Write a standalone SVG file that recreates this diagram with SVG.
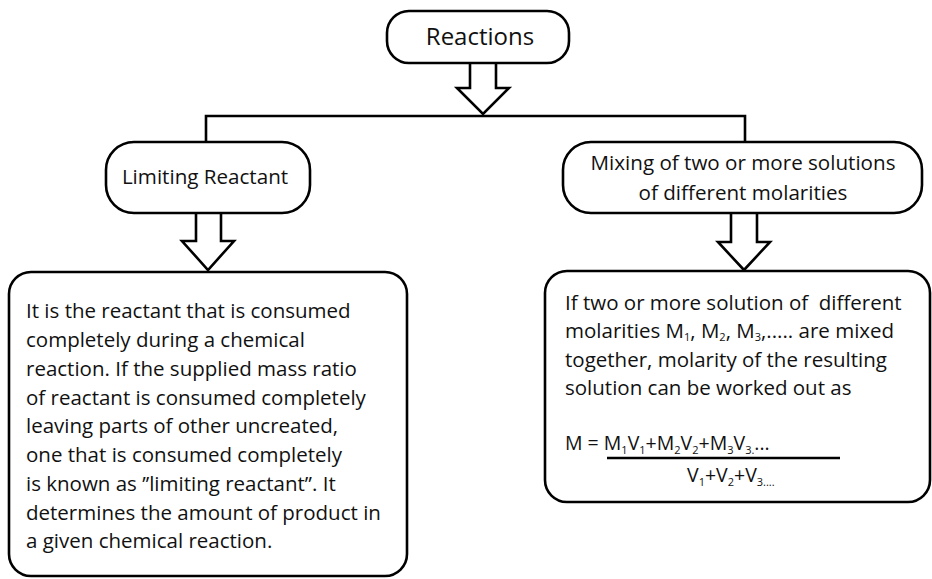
<svg xmlns="http://www.w3.org/2000/svg" width="932" height="579" viewBox="0 0 932 579">
<style>
.box{fill:#fff;stroke:#000;stroke-width:2.6}
.arr{fill:#fff;stroke:#000;stroke-width:2.6;stroke-linejoin:miter}
.con{fill:none;stroke:#000;stroke-width:2.6}
text{font-family:"Open Sans","Noto Sans","DejaVu Sans",sans-serif;fill:#111}
.h{font-size:20.6px;text-anchor:middle}
.t{font-size:20.5px}
.f{font-size:19.5px}
.s{font-size:11px}
</style>
<rect width="932" height="579" fill="#fff"/>
<g id="connectors">
<path class="con" d="M206,142 V116 H745 V142"/>
<path class="arr" d="M470,63 V88 H457 L483,114 L509,88 H496 V63"/>
<path class="arr" d="M196,213 V241 H182 L208,270 L234,241 H221 V213"/>
<path class="arr" d="M731,213 V242 H718 L744,270 L770,242 H757 V213"/>
</g>
<g id="reactions">
<rect class="box" x="387" y="11" width="182" height="52" rx="22"/>
<text class="h" x="480" y="45" style="font-size:24px">Reactions</text>
</g>
<g id="limiting">
<rect class="box" x="106" y="142" width="204" height="71" rx="28"/>
<text class="h" x="205" y="184">Limiting Reactant</text>
</g>
<g id="mixing">
<rect class="box" x="563" y="142" width="359" height="71" rx="28"/>
<text class="h" x="743" y="170">Mixing of two or more solutions</text>
<text class="h" x="743" y="200">of different molarities</text>
</g>
<g id="limiting-text">
<rect class="box" x="9" y="272" width="398" height="304" rx="22"/>
<text class="t" x="26" y="318">It is the reactant that is consumed</text>
<text class="t" x="26" y="347">completely during a chemical</text>
<text class="t" x="26" y="376">reaction. If the supplied mass ratio</text>
<text class="t" x="26" y="405">of reactant is consumed completely</text>
<text class="t" x="26" y="433">leaving parts of other uncreated,</text>
<text class="t" x="26" y="462">one that is consumed completely</text>
<text class="t" x="26" y="491">is known as ’’limiting reactant”. It</text>
<text class="t" x="26" y="520">determines the amount of product in</text>
<text class="t" x="26" y="548">a given chemical reaction.</text>
</g>
<g id="mixing-text">
<rect class="box" x="545" y="271" width="385" height="231" rx="22"/>
<text class="t" x="565" y="310" xml:space="preserve">If two or more solution of  different</text>
<text class="t" x="565" y="338">molarities M<tspan class="s" dy="3">1</tspan><tspan dy="-3">, M</tspan><tspan class="s" dy="3">2</tspan><tspan dy="-3">, M</tspan><tspan class="s" dy="3">3</tspan><tspan dy="-3">,..... are mixed</tspan></text>
<text class="t" x="565" y="367">together, molarity of the resulting</text>
<text class="t" x="565" y="395">solution can be worked out as</text>
<text class="f" x="565" y="450">M = M<tspan class="s" dy="4">1</tspan><tspan dy="-4">V</tspan><tspan class="s" dy="4">1</tspan><tspan dy="-4">+M</tspan><tspan class="s" dy="4">2</tspan><tspan dy="-4">V</tspan><tspan class="s" dy="4">2</tspan><tspan dy="-4">+M</tspan><tspan class="s" dy="4">3</tspan><tspan dy="-4">V</tspan><tspan class="s" dy="4">3.</tspan><tspan dy="-4">...</tspan></text>
<line class="con" x1="607" y1="458" x2="840" y2="458"/>
<text class="f" x="687" y="482">V<tspan class="s" dy="4">1</tspan><tspan dy="-4">+V</tspan><tspan class="s" dy="4">2</tspan><tspan dy="-4">+V</tspan><tspan class="s" dy="4">3....</tspan></text>
</g>
</svg>
